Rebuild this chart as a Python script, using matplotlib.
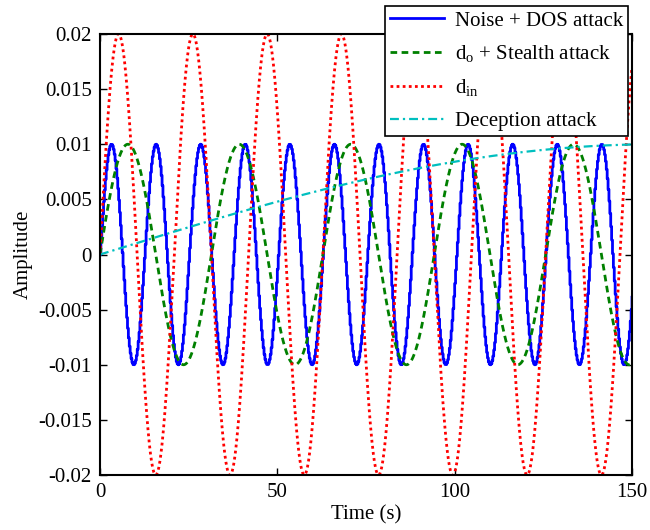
import numpy as np
import matplotlib
matplotlib.use("Agg")
import matplotlib.pyplot as plt
from matplotlib.ticker import FuncFormatter

plt.rcParams['font.family'] = ['Liberation Serif', 'DejaVu Serif']
plt.rcParams['mathtext.fontset'] = 'custom'
plt.rcParams['mathtext.rm'] = 'Liberation Serif'
plt.rcParams['axes.unicode_minus'] = False

# Series parameters
labels = ['Noise + DOS attack', r'd$_\mathrm{o}$ + Stealth attack', r'd$_\mathrm{in}$', 'Deception attack']
amplitudes = [0.01, 0.01, 0.02, 0.01]
omegas = [0.5, 0.2, 0.3, 0.01]        # rad/s
sample_steps = [0.25, 0.1, 0.1, 0.1]  # s
colors = ['#0000ff', '#008000', '#ff0000', '#00bfbf']
t_end = 150
xticks = [0, 50, 100, 150]
yticks = [-0.02, -0.015, -0.01, -0.005, 0, 0.005, 0.01, 0.015, 0.02]

fig = plt.figure(figsize=(6.5, 5.3), dpi=100)
ax = fig.add_axes([100/650, 1-475/530, (632-100)/650, (475-34)/530])

styles = [dict(ls='-', lw=2.0, drawstyle='steps-post'),
          dict(ls=(0, (2.4, 1.6)), lw=2.0),
          dict(ls=(0, (1, 1.2)), lw=2.0),
          dict(ls=(0, (4, 1.8, 1, 1.8)), lw=1.6)]

for A, w, dt, c, lab, st in zip(amplitudes, omegas, sample_steps, colors, labels, styles):
    t = np.arange(0, t_end + dt / 2, dt)
    ax.plot(t, A * np.sin(w * t), color=c, label=lab, **st)

ax.set_xlim(0, 150)
ax.set_ylim(-0.02, 0.02)
ax.set_xticks(xticks)
ax.set_yticks(yticks)
ax.yaxis.set_major_formatter(FuncFormatter(lambda v, p: '%g' % round(v, 6)))
ax.tick_params(direction='in', length=5, width=1, top=True, right=True, labelsize=15, pad=6)
for s in ax.spines.values():
    s.set_linewidth(1.5)
ax.set_xlabel('Time (s)', fontsize=15, labelpad=2)
ax.set_ylabel('Amplitude', fontsize=15, labelpad=4)

leg = ax.legend(loc='upper right', bbox_to_anchor=(628/650, 1-6/530), bbox_transform=fig.transFigure,
                fontsize=15, frameon=True, fancybox=False, handlelength=2.6, handletextpad=0.5,
                borderpad=0.25, labelspacing=0.6, borderaxespad=0)
leg.get_frame().set_edgecolor('black')
leg.get_frame().set_linewidth(1.2)
leg.get_frame().set_alpha(1)

fig.savefig('out.png', dpi=100)
